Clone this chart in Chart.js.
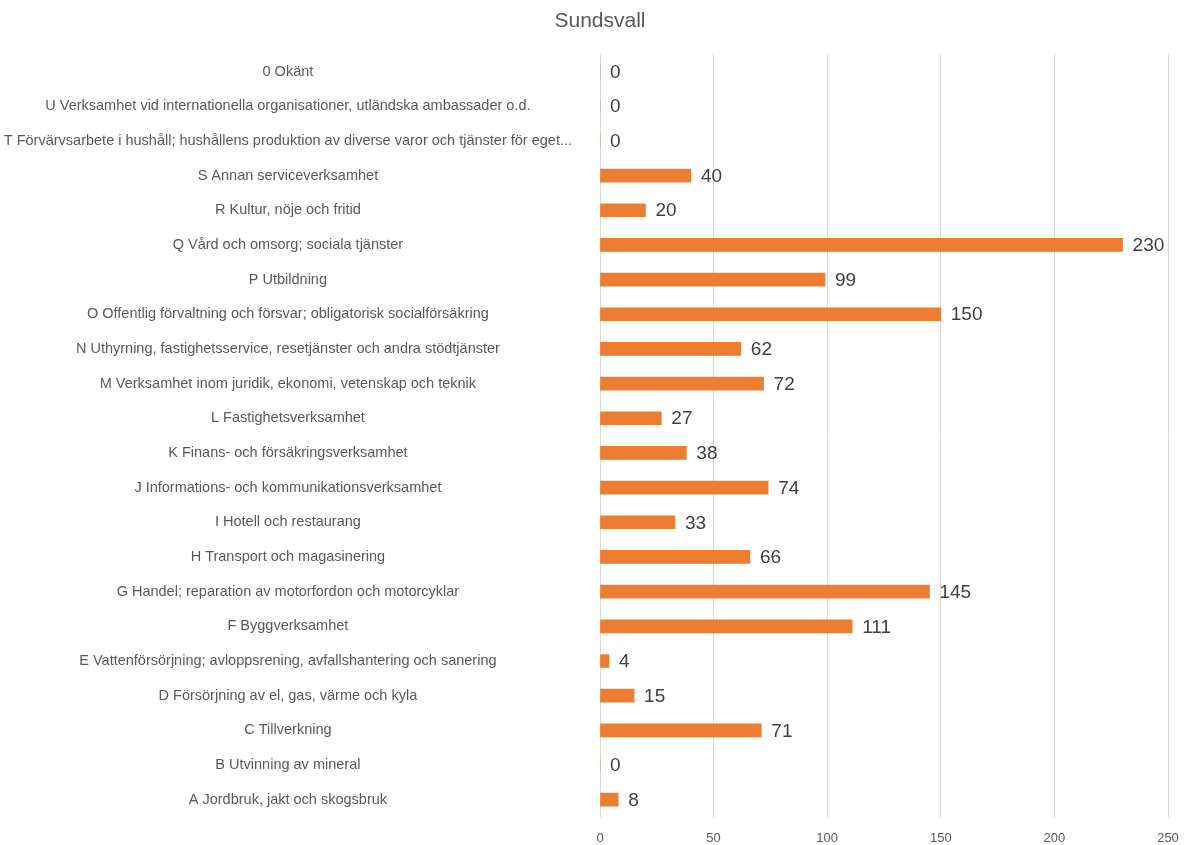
<!DOCTYPE html>
<html>
<head>
    <script src="https://cdn.jsdelivr.net/npm/chart.js@4/dist/chart.umd.min.js"></script>
    <style>
        body {
            margin: 0;
            background-color: #ffffff;
            font-family: 'Liberation Sans', Arial, sans-serif;
        }
        .wrapper {
            width: 1187px;
            height: 845px;
        }
    </style>
</head>
<body>
    <div class="wrapper">
        <canvas id="branscher"></canvas>
    </div>
    <script>
        // data, top to bottom
        var categories = [
            '0 Okänt',
            'U Verksamhet vid internationella organisationer, utländska ambassader o.d.',
            'T Förvärvsarbete i hushåll; hushållens produktion av diverse varor och tjänster för eget...',
            'S Annan serviceverksamhet',
            'R Kultur, nöje och fritid',
            'Q Vård och omsorg; sociala tjänster',
            'P Utbildning',
            'O Offentlig förvaltning och försvar; obligatorisk socialförsäkring',
            'N Uthyrning, fastighetsservice, resetjänster och andra stödtjänster',
            'M Verksamhet inom juridik, ekonomi, vetenskap och teknik',
            'L Fastighetsverksamhet',
            'K Finans- och försäkringsverksamhet',
            'J Informations- och kommunikationsverksamhet',
            'I Hotell och restaurang',
            'H Transport och magasinering',
            'G Handel; reparation av motorfordon och motorcyklar',
            'F Byggverksamhet',
            'E Vattenförsörjning; avloppsrening, avfallshantering och sanering',
            'D Försörjning av el, gas, värme och kyla',
            'C Tillverkning',
            'B Utvinning av mineral',
            'A Jordbruk, jakt och skogsbruk'
        ];
        var antal = [0, 0, 0, 40, 20, 230, 99, 150, 62, 72, 27, 38, 74, 33, 66, 145, 111, 4, 15, 71, 0, 8];
        var xTicks = [0, 50, 100, 150, 200, 250];

        var fontFamily = '"Liberation Sans", Arial, sans-serif';

        // draws the value next to the end of each bar
        var valueLabels = {
            id: 'valueLabels',
            afterDatasetsDraw: function(chart) {
                var ctx = chart.ctx;
                var meta = chart.getDatasetMeta(0);
                ctx.save();
                ctx.font = '19px ' + fontFamily;
                ctx.fillStyle = '#404040';
                ctx.textAlign = 'left';
                ctx.textBaseline = 'middle';
                meta.data.forEach(function(bar, i) {
                    ctx.fillText(String(antal[i]), bar.x + 10, bar.y + 1);
                });
                ctx.restore();
            }
        };

        // let the long category labels use the whole left side (no clipping at the layout padding)
        var wideLabels = {
            id: 'wideLabels',
            afterLayout: function(chart) {
                chart.scales.y.left = 0;
            }
        };

        var ctx = document.getElementById('branscher').getContext('2d');
        var chart = new Chart(ctx, {
            type: 'bar',
            data: {
                labels: categories,
                datasets: [{
                    label: 'Sundsvall',
                    data: antal,
                    backgroundColor: '#ED7D31',
                    borderWidth: 0,
                    barThickness: 13
                }]
            },
            options: {
                indexAxis: 'y',
                responsive: true,
                maintainAspectRatio: false,
                animation: false,
                layout: {
                    padding: { left: 32, right: 19, top: 0, bottom: 0 }
                },
                scales: {
                    x: {
                        min: 0,
                        max: 250,
                        afterBuildTicks: function(scale) {
                            scale.ticks = xTicks.map(function(v) { return { value: v }; });
                        },
                        afterFit: function(scale) {
                            scale.height = 28;
                            scale.paddingLeft = 0;
                            scale.paddingRight = 0;
                        },
                        grid: {
                            color: '#d9d9d9',
                            lineWidth: 1,
                            drawTicks: false
                        },
                        border: { display: false },
                        ticks: {
                            padding: 14,
                            color: '#595959',
                            font: { size: 13, family: fontFamily }
                        }
                    },
                    y: {
                        afterFit: function(scale) {
                            scale.width = 568; // plot starts at x=600
                            scale.paddingTop = 0;
                            scale.paddingBottom = 0;
                        },
                        grid: { display: false, drawTicks: false },
                        border: { display: false },
                        ticks: {
                            autoSkip: false,
                            crossAlign: 'center',
                            padding: 28,
                            color: '#595959',
                            font: { size: 14.5, family: fontFamily }
                        }
                    }
                },
                plugins: {
                    legend: { display: false },
                    tooltip: { enabled: false },
                    title: {
                        display: true,
                        text: 'Sundsvall',
                        color: '#595959',
                        font: { size: 21, weight: 'normal', family: fontFamily },
                        padding: { top: 9, bottom: 20 }
                    }
                }
            },
            plugins: [valueLabels, wideLabels]
        });
    </script>
</body>
</html>
